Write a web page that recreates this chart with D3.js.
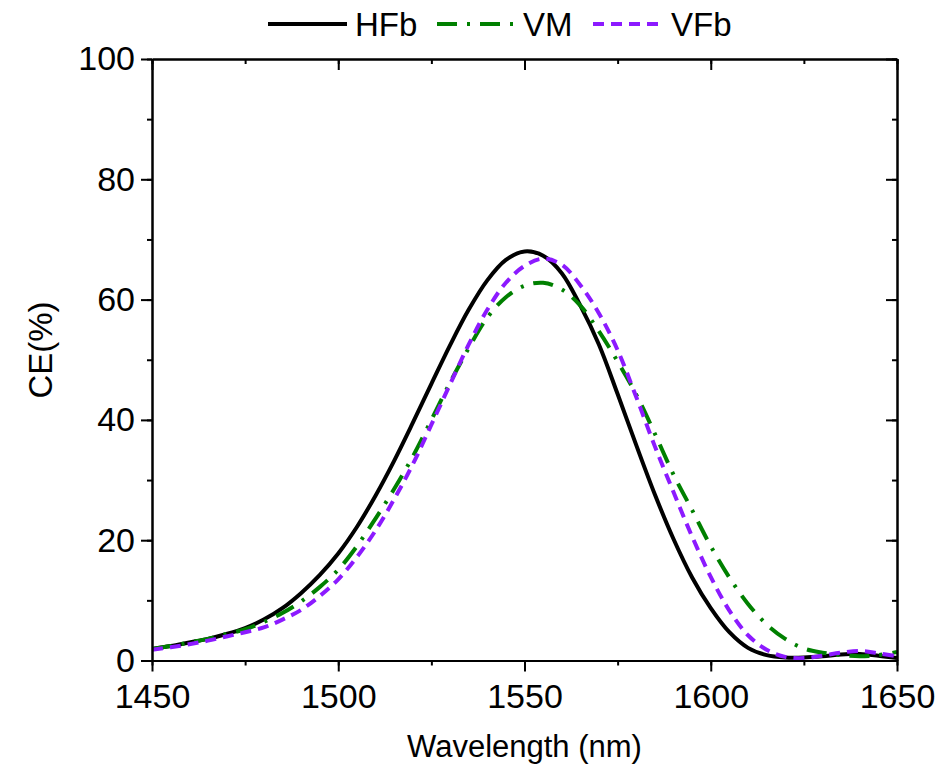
<!DOCTYPE html>
<html>
<head>
<meta charset="utf-8">
<script src="https://cdn.jsdelivr.net/npm/d3@7"></script>
<style>
  body { margin: 0; background: #fff; }
  svg text { font-family: "Liberation Sans", Arial, sans-serif; fill: #000; }
</style>
</head>
<body>
<svg id="chart" width="938" height="767"></svg>
<script>
// wavelength (nm), 5 nm steps
var wavelengths = d3.range(1450, 1651, 5);

var hfb = [1.9, 2.4, 3.0, 3.6, 4.4, 5.4, 6.8, 8.7, 11.2, 14.2,
  17.8, 22.2, 27.4, 33.2, 39.5, 46.0, 52.4, 58.3, 63.2, 66.6,
  68.0, 67.3, 64.4, 59.0, 52.5, 44.3, 35.8, 27.6, 20.2, 13.8,
  8.7, 4.7, 2.1, 0.9, 0.5, 0.5, 0.7, 1.0, 1.1, 0.8, 0.4];

var vm = [1.9, 2.4, 3.0, 3.6, 4.4, 5.2, 6.4, 7.9, 9.8, 12.2,
  15.1, 19.0, 23.6, 28.5, 33.9, 40.0, 46.2, 51.9, 57.0, 60.4,
  62.3, 62.8, 61.7, 59.0, 54.7, 49.7, 44.2, 37.7, 30.9, 25.0,
  19.0, 13.8, 9.4, 6.0, 3.6, 2.0, 1.3, 0.9, 0.7, 0.9, 1.4];

var vfb = [1.8, 2.2, 2.7, 3.3, 4.0, 4.7, 5.5, 6.8, 8.4, 10.7,
  13.5, 17.2, 21.6, 26.8, 32.6, 39.2, 45.9, 52.5, 58.3, 62.8,
  65.6, 66.8, 65.8, 62.4, 57.7, 51.6, 43.8, 35.6, 28.0, 20.6,
  13.9, 8.3, 4.2, 1.8, 0.6, 0.4, 0.8, 1.3, 1.6, 1.2, 0.7];

var xTicks = [1450, 1500, 1550, 1600, 1650];
var yTicks = [0, 20, 40, 60, 80, 100];

var series = [
  {name: "HFb", values: hfb, color: "#000000", dash: null},
  {name: "VM", values: vm, color: "#008000", dash: "20,10,3,10"},
  {name: "VFb", values: vfb, color: "#8c1aff", dash: "11,7"}
];

var svg = d3.select("#chart");
var mLeft = 152, mRight = 897, mTop = 59, mBottom = 660.5;

var x = d3.scaleLinear().domain([1450, 1650]).range([mLeft, mRight]);
var y = d3.scaleLinear().domain([0, 100]).range([mBottom, mTop]);

svg.append("defs").append("clipPath").attr("id", "plotclip")
  .append("rect").attr("x", mLeft).attr("y", mTop)
  .attr("width", mRight - mLeft).attr("height", mBottom - mTop);

// curves
var line = d3.line()
  .x(function(d) { return x(d[0]); })
  .y(function(d) { return y(d[1]); })
  .curve(d3.curveCatmullRom.alpha(0.5));

var plot = svg.append("g").attr("clip-path", "url(#plotclip)");
series.forEach(function(s) {
  var pts = wavelengths.map(function(w, i) { return [w, s.values[i]]; });
  plot.append("path")
    .attr("d", line(pts))
    .attr("fill", "none")
    .attr("stroke", s.color)
    .attr("stroke-width", 4)
    .attr("stroke-dasharray", s.dash);
});

// axes
function styleAxis(g) {
  g.select(".domain").attr("stroke-width", 2);
  g.selectAll(".tick line").attr("stroke-width", 2);
}
var minorX = d3.range(1450, 1651, 25);
var minorY = d3.range(0, 101, 10);
var fmt = d3.format("d");

svg.append("g").attr("transform", "translate(0," + mBottom + ")")
  .call(d3.axisBottom(x).tickValues(minorX).tickSize(5).tickFormat("").tickSizeOuter(0))
  .call(styleAxis);
svg.append("g").attr("transform", "translate(0," + mBottom + ")")
  .call(d3.axisBottom(x).tickValues(xTicks).tickSize(11).tickPadding(12).tickFormat(fmt).tickSizeOuter(0))
  .call(styleAxis)
  .selectAll("text").style("font-size", "34px");

svg.append("g").attr("transform", "translate(" + mLeft + ",0)")
  .call(d3.axisLeft(y).tickValues(minorY).tickSize(5).tickFormat("").tickSizeOuter(0))
  .call(styleAxis);
svg.append("g").attr("transform", "translate(" + mLeft + ",0)")
  .call(d3.axisLeft(y).tickValues(yTicks).tickSize(11).tickPadding(6).tickFormat(fmt).tickSizeOuter(0))
  .call(styleAxis)
  .selectAll("text").style("font-size", "34px");

// mirrored top / right with inward ticks
svg.append("g").attr("transform", "translate(0," + mTop + ")")
  .call(d3.axisBottom(x).tickValues(minorX).tickSize(5).tickFormat("").tickSizeOuter(0))
  .call(styleAxis);
svg.append("g").attr("transform", "translate(0," + mTop + ")")
  .call(d3.axisBottom(x).tickValues(xTicks).tickSize(11).tickFormat("").tickSizeOuter(0))
  .call(styleAxis);
svg.append("g").attr("transform", "translate(" + mRight + ",0)")
  .call(d3.axisLeft(y).tickValues(minorY).tickSize(5).tickFormat("").tickSizeOuter(0))
  .call(styleAxis);
svg.append("g").attr("transform", "translate(" + mRight + ",0)")
  .call(d3.axisLeft(y).tickValues(yTicks).tickSize(11).tickFormat("").tickSizeOuter(0))
  .call(styleAxis);

// axis titles
svg.append("text")
  .attr("x", (mLeft + mRight) / 2).attr("y", 757)
  .attr("text-anchor", "middle")
  .style("font-size", "31px")
  .text("Wavelength (nm)");

svg.append("text")
  .attr("transform", "translate(52,350) rotate(-90)")
  .attr("text-anchor", "middle")
  .style("font-size", "33px")
  .text("CE(%)");

// legend
var legendPos = [{x1: 268, x2: 347, tx: 355}, {x1: 437, x2: 517, tx: 523}, {x1: 593, x2: 665, tx: 671}];
var legend = svg.append("g");
series.forEach(function(s, i) {
  var p = legendPos[i];
  legend.append("line")
    .attr("x1", p.x1).attr("x2", p.x2)
    .attr("y1", 24).attr("y2", 24)
    .attr("stroke", s.color)
    .attr("stroke-width", 4)
    .attr("stroke-dasharray", s.dash);
  legend.append("text")
    .attr("x", p.tx).attr("y", 36)
    .style("font-size", "33px")
    .text(s.name);
});
</script>
</body>
</html>
